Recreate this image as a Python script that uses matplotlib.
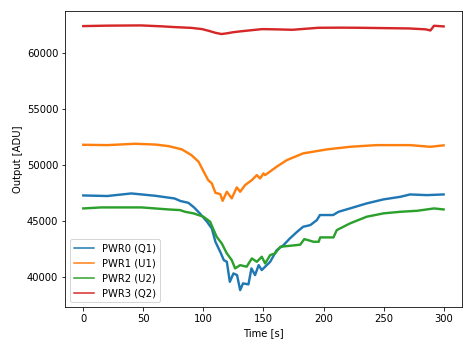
import numpy as np
import matplotlib
matplotlib.use("Agg")
import matplotlib.pyplot as plt

# values (time [s], output [ADU])
pwr0_t = [0, 20, 40, 60, 76, 81, 87.5, 92, 97, 103, 107, 110, 114, 117, 119.5, 122, 125,
          128, 130.6, 133, 137.5, 140, 143, 146, 148.6, 151.4, 155.6, 161, 166.7, 172, 178,
          183, 189, 194.5, 197, 208, 212.5, 222, 236, 250, 264, 272, 286, 300]
pwr0_v = [47300, 47250, 47480, 47270, 47030, 46800, 46640, 46250, 45700, 44950, 44350, 43160,
          42260, 41520, 41370, 39580, 40330, 40180, 38840, 39440, 39350, 40780, 40180, 41070,
          40630, 40930, 41370, 42410, 42860, 43460, 44050, 44500, 44650, 45100, 45550, 45550,
          45840, 46140, 46590, 46950, 47180, 47390, 47330, 47390]

pwr1_t = [0, 20, 43, 60, 71, 82, 90, 96, 101, 104, 107, 110, 114, 116, 119.5, 123.6, 127.8,
          130.6, 134.7, 140.3, 144.5, 147.2, 150, 151.4, 161, 169.5, 183, 203, 222, 244, 272,
          289, 300]
pwr1_v = [51830, 51800, 51920, 51850, 51710, 51420, 50910, 50310, 49270, 48670, 48380, 47540,
          47420, 46820, 47630, 47040, 48020, 47630, 48230, 48670, 49120, 48820, 49270, 49120,
          49870, 50460, 51060, 51420, 51650, 51800, 51800, 51650, 51780]

pwr2_t = [0, 15, 48.6, 70.8, 80.6, 84.7, 91.7, 100, 105.6, 111, 115.3, 119.5, 123.6, 126.4,
          130.6, 136, 140.3, 144.5, 148.6, 151.4, 155.6, 159.7, 164, 172, 180.6, 184, 191.7,
          196, 197.2, 208.3, 211, 222, 236, 250, 264, 278, 292, 300]
pwr2_v = [46140, 46230, 46230, 46050, 45990, 45840, 45700, 45400, 44950, 43610, 43010, 42120,
          41520, 40780, 41070, 40930, 41670, 41370, 41820, 41220, 41970, 42120, 42710, 42800,
          42900, 43400, 43160, 43160, 43550, 43550, 44200, 44800, 45400, 45700, 45840, 45930,
          46140, 46050]

pwr3_t = [0, 20, 48, 65, 76, 90, 99, 105, 110, 115, 120, 124, 130, 138, 149, 160, 174, 185,
          196, 215, 229, 250, 271, 285, 289, 292, 300]
pwr3_v = [62440, 62480, 62500, 62420, 62350, 62280, 62170, 62000, 61840, 61730, 61800, 61880,
          61960, 62050, 62170, 62150, 62110, 62200, 62290, 62300, 62290, 62260, 62230, 62150,
          62050, 62470, 62410]

series = [(pwr0_t, pwr0_v, "PWR0 (Q1)"),
          (pwr1_t, pwr1_v, "PWR1 (U1)"),
          (pwr2_t, pwr2_v, "PWR2 (U2)"),
          (pwr3_t, pwr3_v, "PWR3 (Q2)")]

plt.rcParams['font.size'] = 10
fig = plt.figure(figsize=(473 / 72, 347 / 72), dpi=72)
ax = fig.add_axes([0.138, 0.115, 0.838, 0.853])

for t, v, name in series:
    ax.plot(t, v, lw=2.4, label=name)

ax.set_xlim(-15, 315)
ax.set_ylim(37320, 63780)
ax.set_xlabel('Time [s]')
ax.set_ylabel('Output [ADU]')
leg = ax.legend(loc='lower left')
for line in leg.get_lines():
    line.set_linewidth(1.5)

fig.savefig('out.png', dpi=72)
